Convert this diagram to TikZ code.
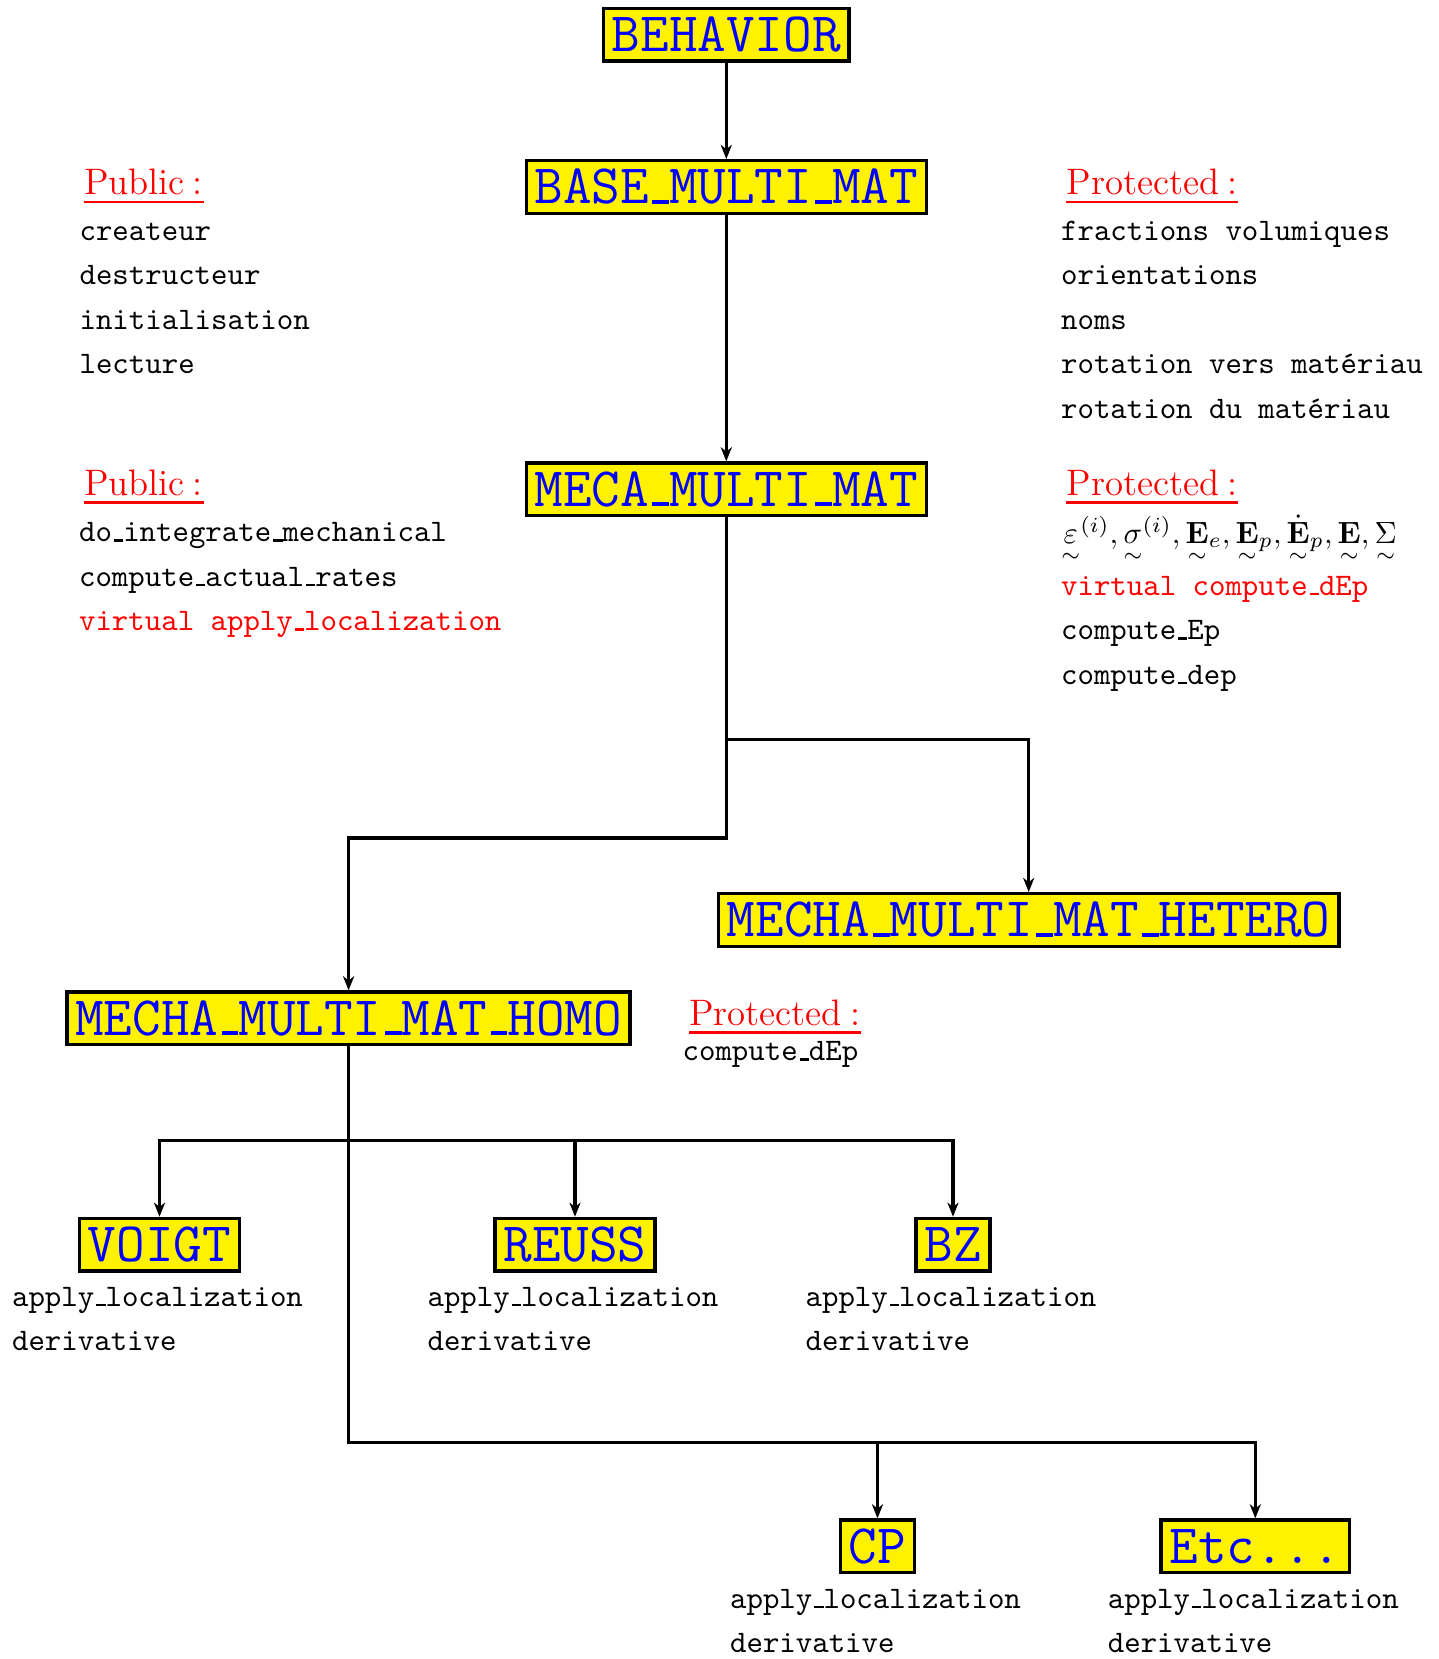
\documentclass[tikz,border=0pt]{standalone}
\usepackage{amsmath}
\usetikzlibrary{arrows.meta}
\renewcommand\arraystretch{1.208}
\newcommand\mylines[1]{\begin{tabular}[t]{@{}l@{}}#1\end{tabular}}
\newcommand\tsim[1]{{\smash[b]{\underset{\sim}{#1}}}}
\newcommand\us{\leavevmode\kern.06em\vbox{\hrule width.3em height .075em}}
\begin{document}
\begin{tikzpicture}[x=0.3257pt,y=-0.3257pt,
  cls/.style={draw=black, line width=1.1pt, fill=yellow, text=blue,
    font=\fontsize{18.1}{21}\selectfont\ttfamily, inner xsep=2.7pt, inner ysep=0pt,
    minimum height=17.1pt, text height=11pt, text depth=0pt},
  hd/.style={text=red, font=\fontsize{12}{14}\selectfont, inner sep=0pt, anchor=base west},
  lst/.style={font=\fontsize{10.2}{12}\selectfont\ttfamily, inner sep=0pt, anchor=base west},
  conn/.style={line width=1pt, -{Stealth[length=4.6pt,width=3.6pt,inset=1.4pt]}},
  ul/.style={red, line width=0.9pt}]
\useasboundingbox (0,0) rectangle (1439,1659);

% class boxes
\node[cls] (behav)  at (726.3,34.7)   {BEHAVIOR};
\node[cls] (base)   at (726.3,187)    {BASE\us MULTI\us MAT};
\node[cls] (meca)   at (726.3,489.3)  {MECA\us MULTI\us MAT};
\node[cls] (hetero) at (1028.7,920)   {MECHA\us MULTI\us MAT\us HETERO};
\node[cls] (homo)   at (348.6,1018.3) {MECHA\us MULTI\us MAT\us HOMO};
\node[cls] (voigt)  at (159.5,1244.7) {VOIGT};
\node[cls] (reuss)  at (575,1244.7)   {REUSS};
\node[cls] (bz)     at (953,1244.7)   {BZ};
\node[cls] (cp)     at (877.5,1546.3) {CP};
\node[cls] (etc)    at (1255.3,1546.3) {Etc...};

% headings
\node[hd] (pubA)  at (83.5,194.5)  {Public\kern.22em:};
\node[hd] (protA) at (1066,194.5)  {Protected\kern.22em:};
\node[hd] (pubB)  at (83.5,495)    {Public\kern.22em:};
\node[hd] (protB) at (1066,495)    {Protected\kern.22em:};
\node[hd] (protC) at (688.5,1025)  {Protected\kern.22em:};
\foreach \h in {pubA,protA,pubB,protB,protC}
  \draw[ul] ([yshift=-2.4pt]\h.base west) -- ([yshift=-2.4pt]\h.base east);

% member lists
\node[lst] (lpubA) at (79,240) {\mylines{createur\\destructeur\\initialisation\\lecture}};
\node[lst] (lprotA) at (1060.5,240) {\mylines{fractions volumiques\\orientations\\noms\\rotation vers matériau\\rotation du matériau}};
\node[lst] (lpubB) at (78.5,541.7) {\mylines{do\us integrate\us mechanical\\compute\us actual\us rates\\\textcolor{red}{virtual apply\us localization}}};
\node[lst] (lprotB) at (1060.5,543.3) {\mylines{$\tsim{\varepsilon}^{(i)}, \tsim{\sigma}^{(i)}, \tsim{\mathbf{E}}_e, \tsim{\mathbf{E}}_p, \tsim{\dot{\mathbf{E}}}_p, \tsim{\mathbf{E}}, \tsim{\Sigma}$\\[2.4pt]\textcolor{red}{virtual compute\us dEp}\\compute\us Ep\\compute\us dep}};
\node[lst] (lprotC) at (682,1060.7) {compute\us dEp};
\node[lst] (lvoigt) at (11.5,1306) {\mylines{apply\us localization\\derivative}};
\node[lst] (lreuss) at (427,1306) {\mylines{apply\us localization\\derivative}};
\node[lst] (lbz) at (805,1306) {\mylines{apply\us localization\\derivative}};
\node[lst] (lcp) at (729.5,1608) {\mylines{apply\us localization\\derivative}};
\node[lst] (letc) at (1107.3,1608) {\mylines{apply\us localization\\derivative}};

% connectors
\draw[conn] (behav.south) -- (base.north);
\draw[conn] (base.south) -- (meca.north);
\draw[conn] (meca.south) -- (meca.south |- 0,739.5) -| (hetero.north);
\draw[conn] (meca.south) -- (meca.south |- 0,838) -| (homo.north);
\foreach \n in {voigt,reuss,bz}
  \draw[conn] (homo.south) -- (homo.south |- 0,1140.5) -| (\n.north);
\foreach \n in {cp,etc}
  \draw[conn] (homo.south) -- (homo.south |- 0,1442.5) -| (\n.north);
\end{tikzpicture}
\end{document}
